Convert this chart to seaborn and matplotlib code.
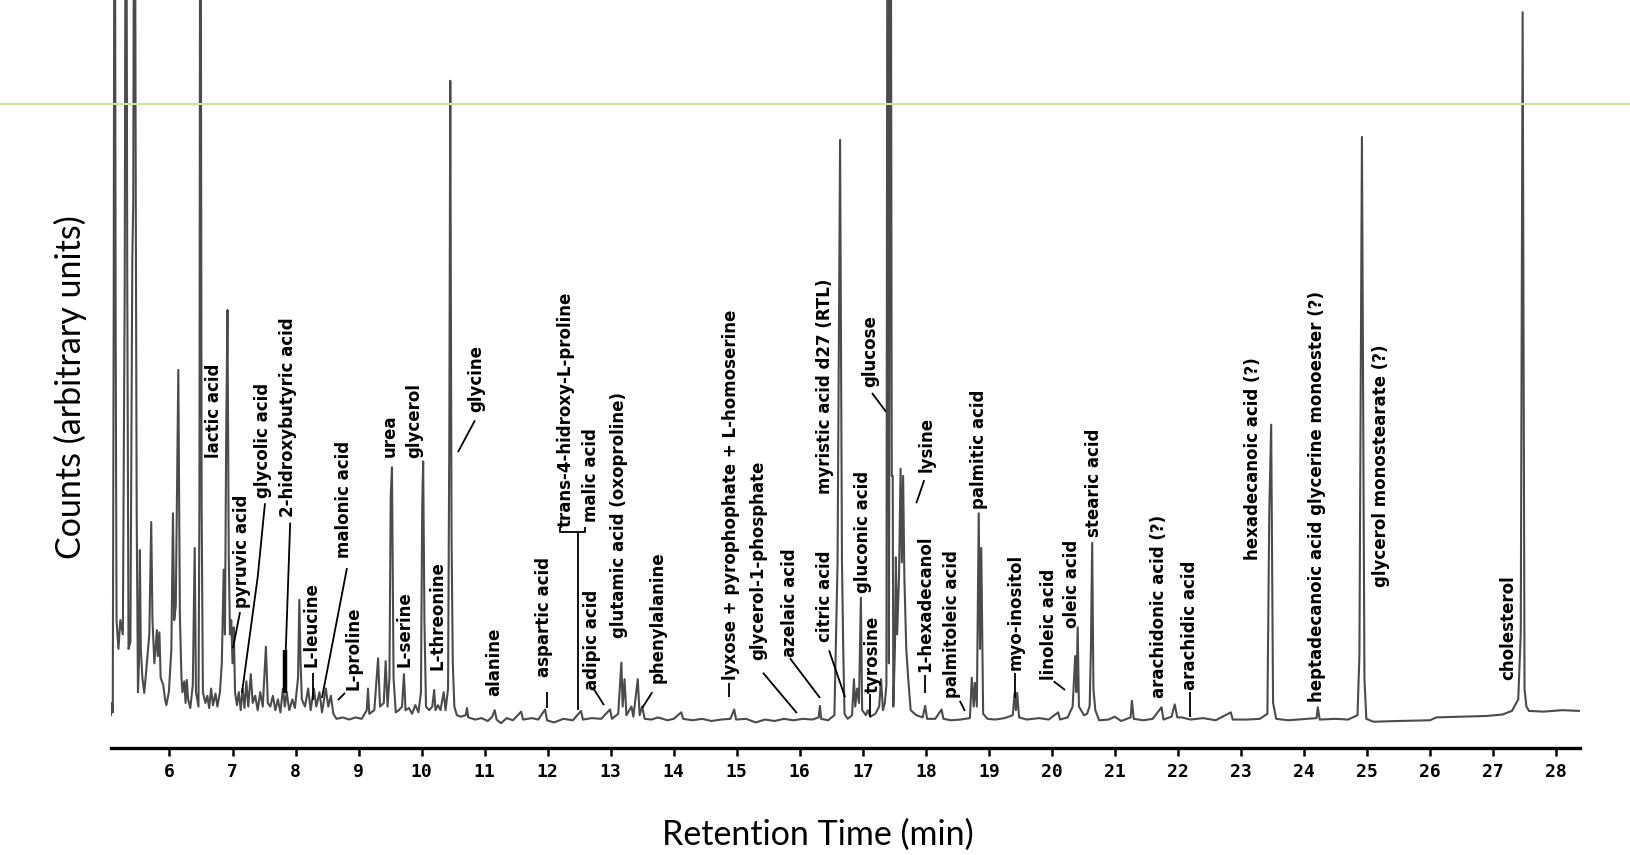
import matplotlib
matplotlib.use("Agg")
import matplotlib.pyplot as plt
from matplotlib.lines import Line2D
import pandas as pd
import seaborn as sns

# ---- chromatogram trace: retention time (min) and detector counts (arbitrary units)
rt_min = [
    5.072, 5.090, 5.100, 5.115, 5.130, 5.145, 5.160, 5.190, 5.220, 5.260,
    5.290, 5.310, 5.330, 5.350, 5.380, 5.410, 5.425, 5.445, 5.465, 5.480,
    5.500, 5.515, 5.530, 5.545, 5.570, 5.600, 5.640, 5.680, 5.710, 5.730,
    5.760, 5.800, 5.815, 5.840, 5.860, 5.900, 5.930, 5.950, 5.990, 6.030,
    6.055, 6.075, 6.100, 6.140, 6.165, 6.190, 6.205, 6.235, 6.255, 6.275,
    6.295, 6.330, 6.370, 6.400, 6.420, 6.460, 6.475, 6.490, 6.510, 6.530,
    6.570, 6.600, 6.630, 6.660, 6.690, 6.730, 6.760, 6.800, 6.830, 6.860,
    6.880, 6.900, 6.920, 6.940, 6.960, 6.980, 7.000, 7.020, 7.040, 7.070,
    7.100, 7.130, 7.160, 7.190, 7.220, 7.250, 7.290, 7.320, 7.360, 7.400,
    7.440, 7.480, 7.530, 7.560, 7.600, 7.640, 7.680, 7.720, 7.760, 7.800,
    7.830, 7.860, 7.900, 7.950, 7.990, 8.040, 8.060, 8.080, 8.100, 8.150,
    8.200, 8.240, 8.290, 8.330, 8.380, 8.420, 8.480, 8.520, 8.560, 8.600,
    8.650, 8.750, 8.850, 8.950, 9.050, 9.130, 9.150, 9.170, 9.250, 9.310,
    9.340, 9.400, 9.430, 9.460, 9.490, 9.510, 9.530, 9.555, 9.590, 9.640,
    9.690, 9.720, 9.745, 9.800, 9.850, 9.900, 9.950, 9.990, 10.010, 10.025,
    10.045, 10.070, 10.120, 10.170, 10.200, 10.220, 10.260, 10.300, 10.350, 10.380,
    10.420, 10.440, 10.455, 10.475, 10.495, 10.520, 10.560, 10.620, 10.700, 10.720,
    10.740, 10.850, 10.950, 11.050, 11.120, 11.160, 11.190, 11.260, 11.350, 11.450,
    11.580, 11.610, 11.750, 11.850, 11.960, 11.990, 12.100, 12.250, 12.400, 12.530,
    12.560, 12.700, 12.850, 12.990, 13.020, 13.120, 13.170, 13.190, 13.220, 13.250,
    13.330, 13.360, 13.430, 13.460, 13.500, 13.540, 13.650, 13.750, 13.900, 14.000,
    14.120, 14.150, 14.300, 14.450, 14.600, 14.750, 14.900, 14.960, 14.990, 15.150,
    15.300, 15.450, 15.600, 15.750, 15.900, 16.050, 16.200, 16.300, 16.320, 16.340,
    16.450, 16.550, 16.600, 16.640, 16.670, 16.690, 16.710, 16.760, 16.830, 16.860,
    16.880, 16.910, 16.940, 16.970, 16.990, 17.050, 17.080, 17.120, 17.200, 17.260,
    17.290, 17.320, 17.350, 17.375, 17.395, 17.415, 17.440, 17.460, 17.475, 17.485,
    17.510, 17.525, 17.545, 17.575, 17.600, 17.620, 17.640, 17.660, 17.690, 17.720,
    17.760, 17.850, 17.950, 17.990, 18.020,
    18.150, 18.250, 18.280, 18.400, 18.550, 18.700, 18.730, 18.760, 18.780, 18.810,
    18.840, 18.860, 18.880, 18.910, 18.980, 19.100, 19.250, 19.380, 19.410, 19.430,
    19.450, 19.480, 19.600, 19.800, 19.950, 20.100, 20.130, 20.250, 20.330, 20.370,
    20.390, 20.410, 20.430, 20.470, 20.510, 20.560, 20.600, 20.620, 20.640, 20.660,
    20.690, 20.750, 20.900, 21.000, 21.100, 21.250, 21.270, 21.300, 21.450, 21.600,
    21.740, 21.770, 21.900, 21.950, 21.990, 22.060, 22.200, 22.400, 22.600, 22.840,
    22.870, 23.100, 23.300, 23.420, 23.450, 23.480, 23.510, 23.560, 23.750, 23.900,
    24.050, 24.200, 24.220, 24.250, 24.500, 24.700, 24.850, 24.880, 24.920, 24.960,
    24.990, 25.100, 25.500, 26.000, 26.100, 26.500, 26.900, 27.150, 27.300, 27.400,
    27.440, 27.470, 27.500, 27.530, 27.570, 27.800, 28.100, 28.370,
]
counts = [
    0.8, 2.5, 1.2, 58, 150, 58, 14, 10, 14, 12,
    61, 150, 61, 10, 11, 64, 72, 150, 72, 28,
    4, 8, 23.7, 10, 6, 3.9, 8, 12, 27.6, 14,
    8, 12.6, 9, 12.3, 6, 5, 3, 2.2, 4, 10,
    28.8, 14, 16, 48.7, 14.6, 6, 4, 5.5, 2.5, 5.7,
    3, 1.8, 5, 24, 4, 2, 30, 150, 30, 4,
    2.5, 3.5, 1.8, 4.5, 2.2, 3.8, 2.0, 4.0, 8, 21,
    12, 40, 57, 23, 12, 14, 8, 13, 4, 2.2,
    4.0, 1.5, 4.5, 1.8, 5.5, 2.0, 6.5, 2.5, 3.5, 1.5,
    4.0, 2.0, 10.3, 2.5, 2.0, 3.5, 1.5, 3.0, 1.2, 4.5,
    2.0, 4.0, 1.5, 3.0, 1.8, 6.0, 16.8, 8.0, 3.0, 2.0,
    4.5, 1.5, 4.5, 2.0, 4.0, 1.2, 4.5, 2.0, 3.5, 1.0,
    0.3, 0.5, 0.2, 0.5, 0.3, 1.5, 4.5, 1.0, 1.5, 8.7,
    2.0, 2.5, 8.3, 2.0, 6.0, 31, 35.2, 6.0, 1.2, 1.5,
    2.0, 6.5, 1.5, 1.8, 1.0, 2.2, 1.2, 4.0, 30, 36,
    14, 2.0, 1.5, 2.0, 4.3, 1.5, 2.2, 1.5, 4.0, 1.5,
    4.5, 40, 88.8, 26, 8, 2.0, 0.8, 0.6, 0.8, 1.8,
    0.5, 0.2, 0.4, 0.0, 0.6, 1.5, 0.2, -0.3, 0.4, 0.1,
    1.3, 0.2, 0.4, 0.2, 1.6, 0.1, -0.2, 0.3, 0.1, 1.4,
    0.2, 0.4, 0.3, 1.6, 0.3, 1.0, 8.1, 2.0, 5.8, 0.8,
    2.0, 0.6, 5.8, 0.8, 2.0, 0.3, 0.2, 0.5, 0.1, 0.3,
    1.2, 0.3, 0.1, 0.3, 0.0, 0.2, 0.3, 1.6, 0.2, 0.3,
    -0.2, 0.2, 0.0, 0.3, 0.1, 0.3, 0.2, 0.5, 2.1, 0.3,
    0.1, 0.8, 22, 80.6, 22, 10, 1.0, 0.3, 0.8, 5.8,
    2.0, 4.5, 2.5, 17.1, 1.5, 0.8, 1.5, 0.6, 1.0, 2.0,
    5.8, 1.5, 2.5, 5, 150, 8, 150, 34, 34, 2.0,
    10, 22.7, 12, 20, 35, 22, 34, 20, 10, 6,
    1.5, 0.8, 0.5, 2.1, 0.3,
    0.3, 1.6, 0.3, 0.1, 0.2, 0.4, 6.0, 2.0, 5.3, 2.0,
    28.8, 10, 24, 1.0, 0.3, 0.2, 0.4, 0.8, 3.9, 1.5,
    3.9, 0.5, 0.2, 0.4, 0.2, 1.2, 0.2, 0.5, 2.0, 9,
    4, 13, 2.0, 1.4, 0.8, 1.0, 2.1, 10, 24.7, 4.4,
    1.5, 0.1, 0.2, 0.6, 0.0, 0.5, 2.8, 0.3, 0.1, 0.3,
    1.9, 0.2, 0.6, 2.3, 0.5, 0.5, 0.2, 0.4, 0.1, 1.2,
    0.2, 0.2, 0.3, 1.0, 29, 41.1, 2.5, 0.3, 0.1, 0.2,
    0.3, 0.4, 1.9, 0.2, 0.3, 0.2, 0.8, 9.2, 81, 5.8,
    0.3, -0.1, 0.0, 0.1, 0.5, 0.6, 0.7, 0.9, 1.4, 3.0,
    12.2, 98.3, 4.4, 2.0, 1.4, 1.3, 1.5, 1.4,
]
assert len(rt_min) == len(counts)

# ---- identified compounds: name, label x (min) and label foot (counts)
compound_names = [
    "lactic acid", "pyruvic acid", "glycolic acid", "2-hidroxybutyric acid",
    "L-leucine", "malonic acid", "L-proline", "urea", "glycerol", "L-serine",
    "L-threonine", "glycine", "alanine", "aspartic acid",
    "trans-4-hidroxy-L-proline", "malic acid", "adipic acid",
    "glutamic acid (oxoproline)", "phenylalanine",
    "lyxose + pyrophophate + L-homoserine", "glycerol-1-phosphate",
    "azelaic acid", "citric acid", "myristic acid d27 (RTL)", "gluconic acid",
    "tyrosine", "glucose", "lysine", "1-hexadecanol", "palmitoleic acid",
    "palmitic acid", "myo-inositol", "linoleic acid", "oleic acid",
    "stearic acid", "arachidonic acid (?)", "arachidic acid",
    "hexadecanoic acid (?)", "heptadecanoic acid glycerine monoester (?)",
    "glycerol monostearate (?)", "cholesterol",
]
label_rt = [
    6.714, 7.150, 7.491, 7.888, 8.253, 8.776, 8.927, 9.498, 9.887, 9.736,
    10.252, 10.871, 11.148, 11.942, 12.291, 12.695, 12.703, 13.139, 13.751,
    14.910, 15.337, 15.845, 16.408, 16.400, 17.003, 17.161, 17.122, 18.010,
    17.986, 18.423, 18.843, 19.430, 19.954, 20.319, 20.668, 21.699, 22.191,
    23.198, 24.206, 25.229, 27.236,
]
label_foot = [
    36.5, 15.7, 30.9, 28.3, 7.5, 22.6, 4.3, 36.6, 36.5, 7.5,
    7.1, 42.9, 3.5, 6.1, 26.9, 27.6, 4.3, 11.5, 5.3,
    5.7, 8.5, 8.9, 11.0, 31.5, 17.8, 3.9, 46.3, 34.5,
    6.8, 3.2, 29.4, 7.1, 5.7, 12.9, 25.5, 3.2, 4.3,
    22.3, 2.6, 18.6, 5.7,
]

# ---- leader lines from labels down to their peaks (min, counts)
leader_paths = [
    [(7.119, 15.1), (7.007, 10.1)],
    [(7.515, 30.2), (7.40, 20.0), (7.150, 3.9)],
    [(7.915, 27.5), (7.845, 9.8)],
    [(8.277, 6.7), (8.277, 2.9)],
    [(8.816, 21.2), (8.419, 3.2)],
    [(8.785, 3.9), (8.673, 2.9)],
    [(10.847, 41.7), (10.577, 37.3)],
    [(11.989, 4.0), (11.989, 1.8)],
    [(12.20, 26.9), (12.20, 26.2), (12.60, 26.2), (12.60, 26.9)],
    [(12.48, 26.2), (12.48, 1.5)],
    [(12.735, 4.4), (12.894, 2.2)],
    [(13.660, 4.0), (13.500, 1.8)],
    [(14.877, 5.3), (14.877, 3.3)],
    [(15.416, 6.7), (15.955, 1.1)],
    [(15.845, 8.7), (16.321, 3.2)],
    [(16.465, 9.8), (16.719, 3.3)],
    [(17.120, 3.8), (17.120, 0.5)],
    [(17.146, 45.5), (17.368, 42.9)],
    [(17.975, 33.4), (17.849, 30.2)],
    [(17.986, 6.4), (17.986, 3.9)],
    [(18.540, 2.8), (18.620, 1.4)],
    [(19.414, 6.7), (19.414, 3.2)],
    [(20.030, 5.5), (20.210, 4.3)],
    [(22.199, 4.0), (22.199, 0.6)],
]
# heavier foot of the 2-hidroxybutyric acid pointer
heavy_leader = [(7.825, 9.8), (7.825, 3.9)]

sns.set_theme(style="white")
plt.rcParams["font.family"] = ["DejaVu Sans"]

W, H = 1630, 855
fig = plt.figure(figsize=(W / 100, H / 100), dpi=100)
ax = fig.add_axes([111 / W, 1 - 748 / H, 1469 / W, 748 / H])

trace = pd.DataFrame({"Retention Time (min)": rt_min, "Counts": counts})
sns.lineplot(data=trace, x="Retention Time (min)", y="Counts", estimator=None,
             sort=False, color="#4b4b4b", linewidth=1.5, ax=ax)

ax.set_xlim(5.072, 28.38)
ax.set_ylim(-3.745, 100)

for side in ("top", "right", "left"):
    ax.spines[side].set_visible(False)
ax.spines["bottom"].set_color("black")
ax.spines["bottom"].set_linewidth(2.4)

ax.set_xticks(range(6, 29))
ax.set_yticks([])
ax.tick_params(axis="x", direction="out", length=6, width=1.8, color="black",
               pad=5, labelsize=13, labelcolor="black", bottom=True)
for lab in ax.get_xticklabels():
    lab.set_fontfamily("DejaVu Sans Mono")
    lab.set_fontweight("bold")

ax.set_xlabel("Retention Time (min)", fontfamily="Lato", fontsize=24.5, color="black")
ax.set_ylabel("Counts (arbitrary units)", fontfamily="Lato", fontsize=24.5, color="black")
ax.xaxis.set_label_coords(0.481, -0.116)
ax.xaxis.label.set_va("center")
ax.yaxis.set_label_coords(-0.0274, 0.483)
ax.yaxis.label.set_va("center")

for name, x, y in zip(compound_names, label_rt, label_foot):
    ax.text(x, y, name, rotation=90, ha="center", va="bottom", fontsize=12,
            fontweight="bold", color="black", fontfamily="DejaVu Sans")

for path in leader_paths:
    xs, ys = zip(*path)
    ax.plot(xs, ys, color="black", linewidth=1.3, solid_capstyle="butt")
hx, hy = zip(*heavy_leader)
ax.plot(hx, hy, color="black", linewidth=3.2, solid_capstyle="butt")

# pale green guide line running across the slide
fig.add_artist(Line2D([0, 1], [1 - 104 / H, 1 - 104 / H], transform=fig.transFigure,
                      color="#cfe6a3", linewidth=1.5))

fig.savefig("out.png", dpi=100, facecolor="white")
